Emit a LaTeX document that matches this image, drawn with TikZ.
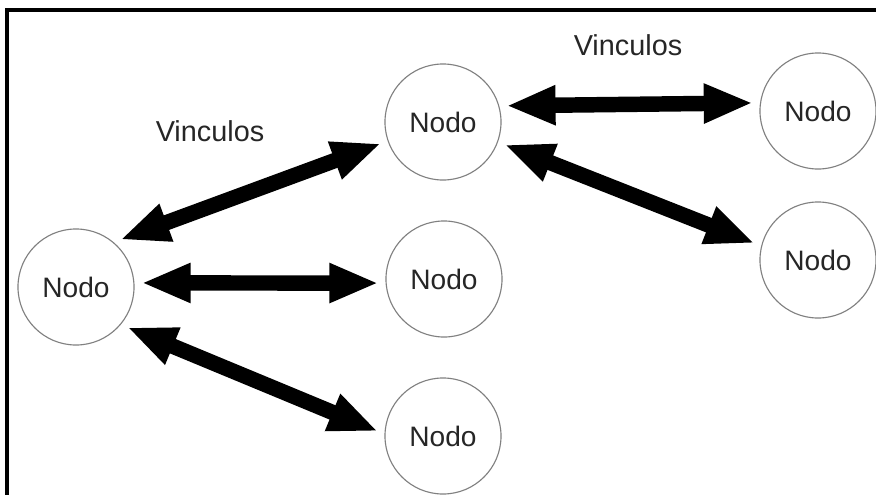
\documentclass[tikz,border=0pt]{standalone}
\usepackage{fontspec}
\setmainfont{Liberation Sans}
\usepackage{tikz}
\usetikzlibrary{arrows.meta,positioning}

\begin{document}
\begin{tikzpicture}[
        x=0.025cm,y=-0.025cm,
        nodo/.style={draw=gray,circle,line width=0.8pt,minimum size=2.9cm,inner sep=0pt,
            font=\fontsize{20}{24}\selectfont,text=black!85},
        etiqueta/.style={font=\fontsize{20.5}{24}\selectfont,text=black!85},
        vinculo/.style={{Triangle[length=35pt,width=26pt]}-{Triangle[length=35pt,width=26pt]},
            line width=11pt,shorten >=5pt,shorten <=5pt}
    ]
        \useasboundingbox (0,0) rectangle (876,494);
        \draw[line width=2.2pt] (7,500) |- (882,10);

        \node[nodo] (raiz) at (76,287) {Nodo};
        \node[nodo] (centro) at (443,122) {Nodo};
        \node[nodo] (medio) at (444,279) {Nodo};
        \node[nodo] (abajo) at (443,436) {Nodo};
        \node[nodo] (derArriba) at (818,111) {Nodo};
        \node[nodo] (derAbajo) at (818,260) {Nodo};

        \node[etiqueta] (vinc1) at (210,131) {Vinculos};
        \node[etiqueta] (vinc2) at (628,45) {Vinculos};

        \draw[vinculo] (raiz.50) -- (centro.199);
        \draw[vinculo] (raiz.4) -- (medio.184);
        \draw[vinculo] (raiz.-40) -- (abajo.178);
        \draw[vinculo] (centro.16) -- (derArriba.172);
        \draw[vinculo] (centro.-20) -- (derAbajo.166);
    \end{tikzpicture}
\end{document}
